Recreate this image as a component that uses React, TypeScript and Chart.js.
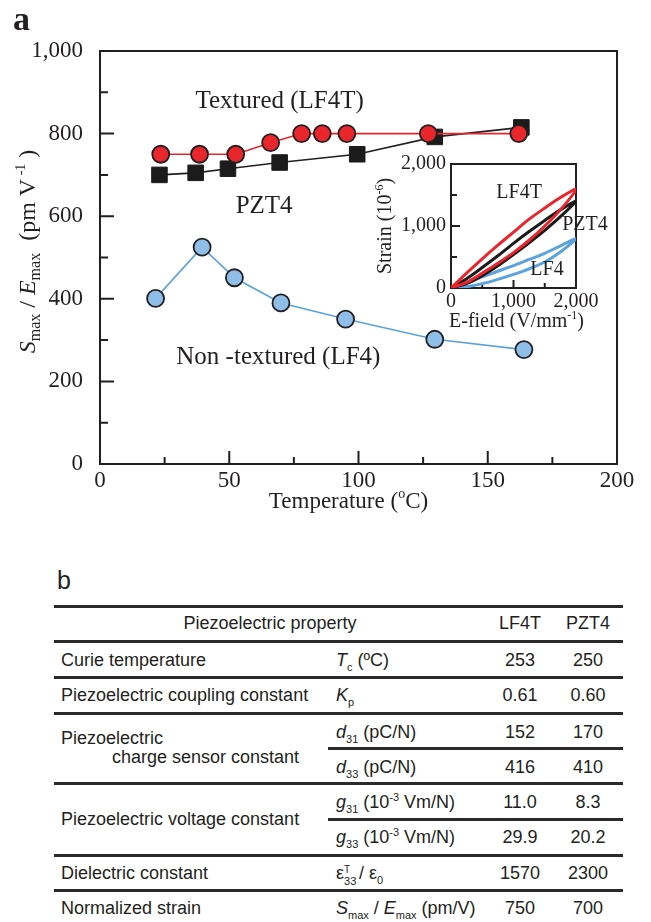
import React, { useEffect, useRef } from 'react';
import { Chart, registerables } from 'chart.js';

Chart.register(...registerables);

const INK = '#231f20';
const SERIF = "'Liberation Serif', 'Times New Roman', serif";
const SANS = "'Liberation Sans', Arial, Helvetica, sans-serif";

// ---- Main chart data: S_max / E_max (pm/V) vs temperature (°C) ----
const tempLF4T = [23.5, 38.5, 52.5, 66, 78, 86, 95.5, 127, 162];
const strainLF4T = [750, 750, 750, 778, 800, 800, 800, 800, 800];
const tempPZT4 = [23, 37, 49.5, 69.5, 99.5, 129.5, 163];
const strainPZT4 = [700, 705, 715, 730, 750, 792, 815];
const tempLF4 = [21.5, 39.5, 52, 70, 95, 129.5, 164];
const strainLF4 = [401, 525, 451, 390, 351, 302, 277];

const xMajorTicks = [0, 50, 100, 150, 200];
const xMinorTicks = [25, 75, 125, 175];
const yMajorTicks = [0, 200, 400, 600, 800, 1000];
const yMinorTicks = [100, 300, 500, 700, 900];

// ---- Inset: strain (1e-6) vs E-field (V/mm), unipolar loops ----
const loopField = [0, 250, 500, 750, 1000, 1250, 1500, 1750, 2000, 1750, 1500, 1250, 1000, 750, 500, 250, 0];
const loopLF4T = [0, 90, 240, 400, 570, 770, 1000, 1260, 1590, 1460, 1290, 1110, 900, 690, 470, 240, 0];
const loopPZT4 = [0, 70, 200, 360, 540, 730, 930, 1150, 1400, 1260, 1090, 910, 720, 520, 330, 150, 0];
const loopLF4 = [0, 20, 70, 140, 220, 310, 420, 580, 795, 680, 560, 460, 360, 270, 180, 90, 0];
const insetMajorTicks = [0, 1000, 2000];
const insetMinorTicks = [500, 1500];

// ---- Table ----
const tableHeader = ['Piezoelectric property', 'LF4T', 'PZT4'];
const propertyNames = [
  'Curie temperature',
  'Piezoelectric coupling constant',
  'Piezoelectric',
  'charge sensor constant',
  'Piezoelectric voltage constant',
  'Dielectric constant',
  'Normalized strain',
];
const valuesLF4T = ['253', '0.61', '152', '416', '11.0', '29.9', '1570', '750'];
const valuesPZT4 = ['250', '0.60', '170', '410', '8.3', '20.2', '2300', '700'];

type Part = { t: string; size: number; style?: string; dy?: number };

function drawParts(ctx: CanvasRenderingContext2D, parts: Part[], x: number, y: number, family: string) {
  ctx.textAlign = 'left';
  ctx.textBaseline = 'alphabetic';
  let w = 0;
  for (const p of parts) {
    ctx.font = `${p.style || ''} ${p.size}px ${family}`;
    w += ctx.measureText(p.t).width;
  }
  let cx = x - w / 2;
  for (const p of parts) {
    ctx.font = `${p.style || ''} ${p.size}px ${family}`;
    ctx.fillText(p.t, cx, y + (p.dy || 0));
    cx += ctx.measureText(p.t).width;
  }
}

const mainDecor = {
  id: 'mainDecor',
  beforeDatasetsDraw(chart: any) {
    const { ctx, chartArea: a } = chart;
    const xs = chart.scales.x;
    const ys = chart.scales.y;
    ctx.save();
    ctx.strokeStyle = INK;
    ctx.lineWidth = 2;
    ctx.strokeRect(a.left, a.top, a.right - a.left, a.bottom - a.top);
    ctx.beginPath();
    for (const v of yMajorTicks) {
      const p = ys.getPixelForValue(v);
      ctx.moveTo(a.left, p);
      ctx.lineTo(a.left + 14, p);
    }
    for (const v of yMinorTicks) {
      const p = ys.getPixelForValue(v);
      ctx.moveTo(a.left, p);
      ctx.lineTo(a.left + 8, p);
    }
    for (const v of xMajorTicks) {
      const p = xs.getPixelForValue(v);
      ctx.moveTo(p, a.bottom);
      ctx.lineTo(p, a.bottom - 13);
    }
    for (const v of xMinorTicks) {
      const p = xs.getPixelForValue(v);
      ctx.moveTo(p, a.bottom);
      ctx.lineTo(p, a.bottom - 7);
    }
    ctx.stroke();
    ctx.restore();
  },
  afterDraw(chart: any) {
    const { ctx, chartArea: a } = chart;
    const xs = chart.scales.x;
    const ys = chart.scales.y;
    ctx.save();
    ctx.fillStyle = INK;
    // series annotations
    drawParts(ctx, [{ t: 'Textured (LF4T)', size: 25 }], xs.getPixelForValue(69.5), ys.getPixelForValue(862), SERIF);
    drawParts(ctx, [{ t: 'PZT4', size: 25 }], xs.getPixelForValue(63.5), ys.getPixelForValue(608), SERIF);
    drawParts(ctx, [{ t: 'Non -textured (LF4)', size: 25 }], xs.getPixelForValue(69), ys.getPixelForValue(242), SERIF);
    // x title
    drawParts(
      ctx,
      [
        { t: 'Temperature (', size: 23 },
        { t: 'o', size: 14, dy: -10 },
        { t: 'C)', size: 23 },
      ],
      (a.left + a.right) / 2 - 10,
      a.bottom + 44,
      SERIF
    );
    // y title (rotated)
    ctx.translate(a.left - 65, (a.top + a.bottom) / 2 - 6);
    ctx.rotate(-Math.PI / 2);
    drawParts(
      ctx,
      [
        { t: 'S', size: 24, style: 'italic' },
        { t: 'max', size: 16, dy: 5 },
        { t: ' / ', size: 24 },
        { t: 'E', size: 24, style: 'italic' },
        { t: 'max', size: 16, dy: 5 },
        { t: '  (pm V', size: 24 },
        { t: ' -1', size: 14, dy: -10 },
        { t: ' )', size: 24 },
      ],
      0,
      0,
      SERIF
    );
    ctx.restore();
    // panel letter
    ctx.save();
    ctx.fillStyle = INK;
    ctx.font = `bold 34px ${SERIF}`;
    ctx.textAlign = 'left';
    ctx.textBaseline = 'alphabetic';
    ctx.fillText('a', 13, 30);
    ctx.restore();
  },
};

const insetDecor = {
  id: 'insetDecor',
  beforeDraw(chart: any) {
    const { ctx, chartArea: a } = chart;
    ctx.save();
    ctx.fillStyle = '#ffffff';
    ctx.fillRect(a.left, a.top, a.right - a.left, a.bottom - a.top);
    ctx.restore();
  },
  beforeDatasetsDraw(chart: any) {
    const { ctx, chartArea: a } = chart;
    const xs = chart.scales.x;
    const ys = chart.scales.y;
    ctx.save();
    ctx.strokeStyle = INK;
    ctx.lineWidth = 2;
    ctx.strokeRect(a.left, a.top, a.right - a.left, a.bottom - a.top);
    ctx.beginPath();
    for (const v of insetMajorTicks) {
      const py = ys.getPixelForValue(v);
      ctx.moveTo(a.left, py);
      ctx.lineTo(a.left + 9, py);
      const px = xs.getPixelForValue(v);
      ctx.moveTo(px, a.bottom);
      ctx.lineTo(px, a.bottom - 8);
    }
    for (const v of insetMinorTicks) {
      const py = ys.getPixelForValue(v);
      ctx.moveTo(a.left, py);
      ctx.lineTo(a.left + 6, py);
      const px = xs.getPixelForValue(v);
      ctx.moveTo(px, a.bottom);
      ctx.lineTo(px, a.bottom - 5);
    }
    ctx.stroke();
    ctx.restore();
  },
  afterDraw(chart: any) {
    const { ctx, chartArea: a } = chart;
    const xs = chart.scales.x;
    const ys = chart.scales.y;
    ctx.save();
    ctx.fillStyle = INK;
    drawParts(ctx, [{ t: 'LF4T', size: 20 }], xs.getPixelForValue(1090), ys.getPixelForValue(1452), SERIF);
    drawParts(ctx, [{ t: 'PZT4', size: 20 }], xs.getPixelForValue(2144), ys.getPixelForValue(935), SERIF);
    drawParts(ctx, [{ t: 'LF4', size: 20 }], xs.getPixelForValue(1536), ys.getPixelForValue(210), SERIF);
    drawParts(
      ctx,
      [
        { t: 'E-field (V/mm', size: 20 },
        { t: '-1', size: 12, dy: -8 },
        { t: ')', size: 20 },
      ],
      (a.left + a.right) / 2 + 3,
      a.bottom + 39,
      SERIF
    );
    ctx.translate(a.left - 60, (a.top + a.bottom) / 2);
    ctx.rotate(-Math.PI / 2);
    drawParts(
      ctx,
      [
        { t: 'Strain (10', size: 20 },
        { t: '-6', size: 12, dy: -8 },
        { t: ')', size: 20 },
      ],
      0,
      0,
      SERIF
    );
    ctx.restore();
  },
};

const pts = (xs: number[], ys: number[]) => xs.map((x, i) => ({ x, y: ys[i] }));
const fmt = (v: any) => Number(v).toLocaleString('en-US');

function MainChart() {
  const ref = useRef<HTMLCanvasElement | null>(null);
  useEffect(() => {
    if (!ref.current) return;
    const chart = new Chart(ref.current, {
      type: 'scatter',
      data: {
        datasets: [
          {
            label: 'LF4T',
            data: pts(tempLF4T, strainLF4T),
            showLine: true,
            borderColor: '#e8262c',
            borderWidth: 1.6,
            pointRadius: 8.5,
            pointBackgroundColor: '#e8262c',
            pointBorderColor: INK,
            pointBorderWidth: 1.8,
            order: 1,
          },
          {
            label: 'PZT4',
            data: pts(tempPZT4, strainPZT4),
            showLine: true,
            borderColor: INK,
            borderWidth: 1.6,
            pointStyle: 'rect',
            pointRadius: 11,
            pointBackgroundColor: '#1b1b1b',
            pointBorderColor: '#1b1b1b',
            pointBorderWidth: 1,
            order: 2,
          },
          {
            label: 'LF4',
            data: pts(tempLF4, strainLF4),
            showLine: true,
            borderColor: '#5aa2dd',
            borderWidth: 1.6,
            pointRadius: 8.5,
            pointBackgroundColor: '#8fbfe8',
            pointBorderColor: INK,
            pointBorderWidth: 1.8,
            order: 3,
          },
        ] as any,
      },
      options: {
        animation: false,
        responsive: false,
        devicePixelRatio: 1,
        layout: { padding: { top: 51, right: 34, left: 0, bottom: 0 } },
        plugins: { legend: { display: false }, tooltip: { enabled: false } },
        scales: {
          x: {
            type: 'linear',
            min: 0,
            max: 200,
            ticks: { stepSize: 50, font: { family: SERIF, size: 23 }, color: INK, padding: 3, maxRotation: 0 },
            grid: { display: false, drawTicks: false },
            border: { display: false },
            afterFit: (s: any) => {
              s.height = 66;
            },
          },
          y: {
            type: 'linear',
            min: 0,
            max: 1000,
            ticks: { stepSize: 200, font: { family: SERIF, size: 23 }, color: INK, padding: 17, callback: fmt },
            grid: { display: false, drawTicks: false },
            border: { display: false },
            afterFit: (s: any) => {
              s.width = 100;
            },
          },
        },
      } as any,
      plugins: [mainDecor],
    });
    return () => chart.destroy();
  }, []);
  return <canvas ref={ref} width={651} height={530} style={{ position: 'absolute', left: 0, top: 0, width: 651, height: 530 }} />;
}

function InsetChart() {
  const ref = useRef<HTMLCanvasElement | null>(null);
  useEffect(() => {
    if (!ref.current) return;
    const loop = (s: number[], color: string, order: number) => ({
      data: pts(loopField, s),
      showLine: true,
      borderColor: color,
      borderWidth: 3,
      pointRadius: 0,
      tension: 0.3,
      order,
    });
    const chart = new Chart(ref.current, {
      type: 'scatter',
      data: {
        datasets: [loop(loopLF4T, '#e8262c', 1), loop(loopPZT4, '#1b1b1b', 2), loop(loopLF4, '#5ba3dc', 3)] as any,
      },
      options: {
        animation: false,
        responsive: false,
        devicePixelRatio: 1,
        layout: { padding: { top: 24, right: 44, left: 0, bottom: 0 } },
        plugins: { legend: { display: false }, tooltip: { enabled: false } },
        scales: {
          x: {
            type: 'linear',
            min: 0,
            max: 2000,
            ticks: { stepSize: 1000, font: { family: SERIF, size: 20 }, color: INK, padding: 2, maxRotation: 0, callback: fmt },
            grid: { display: false, drawTicks: false },
            border: { display: false },
            afterFit: (s: any) => {
              s.height = 52;
            },
          },
          y: {
            type: 'linear',
            min: 0,
            max: 2000,
            ticks: { stepSize: 1000, font: { family: SERIF, size: 20 }, color: INK, padding: 5, callback: fmt },
            grid: { display: false, drawTicks: false },
            border: { display: false },
            afterFit: (s: any) => {
              s.width = 91;
            },
          },
        },
      } as any,
      plugins: [insetDecor],
    });
    return () => chart.destroy();
  }, []);
  return <canvas ref={ref} width={260} height={200} style={{ position: 'absolute', left: 360, top: 140, width: 260, height: 200 }} />;
}

const Sub = ({ c }: { c: string }) => <span style={{ fontSize: 11, position: 'relative', top: 5 }}>{c}</span>;
const Sup = ({ c }: { c: string }) => <span style={{ fontSize: 11, position: 'relative', top: -7 }}>{c}</span>;
const It = ({ c }: { c: string }) => <span style={{ fontStyle: 'italic' }}>{c}</span>;

const symbols = [
  <><It c="T" /><Sub c="c" /> (ºC)</>,
  <><It c="K" /><Sub c="p" /></>,
  <><It c="d" /><Sub c="31" /> (pC/N)</>,
  <><It c="d" /><Sub c="33" /> (pC/N)</>,
  <><It c="g" /><Sub c="31" /> (10<Sup c="-3" /> Vm/N)</>,
  <><It c="g" /><Sub c="33" /> (10<Sup c="-3" /> Vm/N)</>,
  <>
    ε
    <span style={{ position: 'relative', display: 'inline-block', width: 15 }}>
      &nbsp;
      <span style={{ position: 'absolute', left: 0, top: -3, fontSize: 10 }}>T</span>
      <span style={{ position: 'absolute', left: 0, top: 8, fontSize: 11 }}>33</span>
    </span>
    / ε<Sub c="0" />
  </>,
  <><It c="S" /><Sub c="max" /> / <It c="E" /><Sub c="max" /> (pm/V)</>,
];

function Txt({ x, cy, center, children, size = 18 }: any) {
  return (
    <div
      style={{
        position: 'absolute',
        left: x,
        top: cy - size / 2,
        fontSize: size,
        lineHeight: `${size}px`,
        whiteSpace: 'nowrap',
        transform: center ? 'translateX(-50%)' : undefined,
        fontFamily: SANS,
        color: INK,
      }}
    >
      {children}
    </div>
  );
}

function Rule({ y, x0 = 54, x1 = 623 }: { y: number; x0?: number; x1?: number }) {
  return <div style={{ position: 'absolute', left: x0, top: y - 1.5, width: x1 - x0, height: 3, background: '#2a2a2a' }} />;
}

function Table() {
  const valueRowsY = [660, 695, 732, 767, 802, 837, 873, 908];
  const symbolIdx = [0, 1, 2, 3, 4, 5, 6, 7];
  return (
    <>
      <Txt x={57} cy={580} size={25}>b</Txt>
      <Rule y={606} />
      <Txt x={270} cy={623} center>{tableHeader[0]}</Txt>
      <Txt x={520} cy={623} center>{tableHeader[1]}</Txt>
      <Txt x={588} cy={623} center>{tableHeader[2]}</Txt>
      <Rule y={641} />
      <Txt x={61} cy={660}>{propertyNames[0]}</Txt>
      <Rule y={677} />
      <Txt x={61} cy={695}>{propertyNames[1]}</Txt>
      <Rule y={713} />
      <Txt x={61} cy={738}>{propertyNames[2]}</Txt>
      <Txt x={112} cy={757}>{propertyNames[3]}</Txt>
      <Rule y={748} x0={328} />
      <Rule y={783} />
      <Txt x={61} cy={819}>{propertyNames[4]}</Txt>
      <Rule y={819} x0={328} />
      <Rule y={855} />
      <Txt x={61} cy={873}>{propertyNames[5]}</Txt>
      <Rule y={890} />
      <Txt x={61} cy={908}>{propertyNames[6]}</Txt>
      {symbolIdx.map((i) => (
        <Txt key={'s' + i} x={336} cy={valueRowsY[i]}>{symbols[i]}</Txt>
      ))}
      {valuesLF4T.map((v, i) => (
        <Txt key={'a' + i} x={520} cy={valueRowsY[i]} center>{v}</Txt>
      ))}
      {valuesPZT4.map((v, i) => (
        <Txt key={'b' + i} x={588} cy={valueRowsY[i]} center>{v}</Txt>
      ))}
    </>
  );
}

export default function App() {
  return (
    <div style={{ position: 'absolute', left: 0, top: 0, width: 651, height: 922, background: '#fff', overflow: 'hidden' }}>
      <MainChart />
      <InsetChart />
      <Table />
    </div>
  );
}
